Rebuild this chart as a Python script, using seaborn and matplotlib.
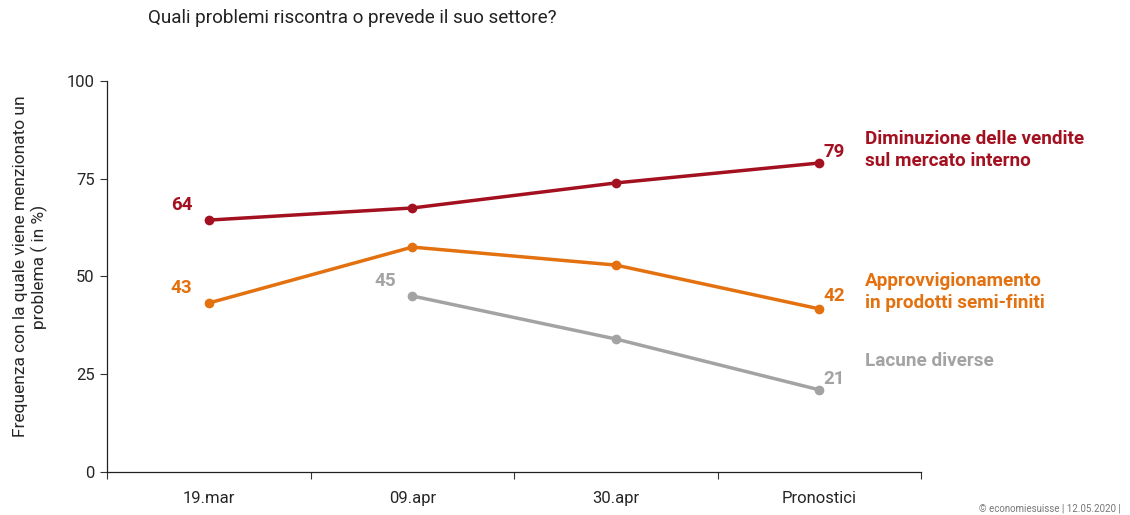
import matplotlib
matplotlib.use("Agg")
import matplotlib.pyplot as plt
import seaborn as sns
import numpy as np
import pandas as pd

# Data
periods = ["19.mar", "09.apr", "30.apr", "Pronostici"]
vendite = [64.4, 67.5, 73.9, 79.0]
approvv = [43.2, 57.5, 52.9, 41.7]
lacune = [np.nan, 45.0, 34.0, 21.0]

series_names = ["Diminuzione delle vendite\nsul mercato interno",
                "Approvvigionamento\nin prodotti semi-finiti",
                "Lacune diverse"]
colors = ["#A3101F", "#E3710F", "#A3A3A3"]

sns.set_style("white")
plt.rcParams["font.family"] = ["Roboto", "DejaVu Sans"]

fig = plt.figure(figsize=(11.3, 5.15), dpi=100)
ax = fig.add_axes([0.0947, 0.0835, 0.7205, 0.7595])

pos = np.arange(len(periods))
all_vals = [vendite, approvv, lacune]
for vals, col in zip(all_vals, colors):
    df = pd.DataFrame({"x": pos, "y": vals}).dropna()
    sns.lineplot(data=df, x="x", y="y", color=col, linewidth=2.5,
                 marker="o", markersize=7, markeredgewidth=0, ax=ax)

# value labels
lab_kw = dict(fontsize=13.5, fontweight="bold")
ax.text(-0.08, vendite[0] + 1.5, "64", color=colors[0], ha="right", va="bottom", **lab_kw)
ax.text(-0.08, approvv[0] + 1.5, "43", color=colors[1], ha="right", va="bottom", **lab_kw)
ax.text(0.92, lacune[1] + 1.5, "45", color=colors[2], ha="right", va="bottom", **lab_kw)
ax.text(3.02, vendite[3] + 0.5, "79", color=colors[0], ha="left", va="bottom", **lab_kw)
ax.text(3.02, approvv[3] + 1.0, "42", color=colors[1], ha="left", va="bottom", **lab_kw)
ax.text(3.02, lacune[3] + 0.5, "21", color=colors[2], ha="left", va="bottom", **lab_kw)

# series names
name_y = [82.3, 46.0, 28.4]
for name, yv, col in zip(series_names, name_y, colors):
    ax.text(3.225, yv, name, color=col, ha="left", va="center",
            fontsize=13.6, fontweight="bold", linespacing=1.25)

ax.set_xlim(-0.5, 3.5)
ax.set_ylim(0, 100)
ax.set_yticks([0, 25, 50, 75, 100])
ax.set_xticks(pos)
ax.set_xticklabels(periods)
ax.set_xticks(np.arange(-0.5, 4, 1), minor=True)
ax.tick_params(axis="x", which="major", bottom=True, length=0, pad=14, labelsize=12)
ax.tick_params(axis="x", which="minor", bottom=True, length=5, width=0.8,
               direction="out", color="#333333")
ax.tick_params(axis="y", left=True, length=5, width=0.8, direction="out",
               labelsize=12, pad=4, color="#333333")
ax.set_xlabel("")
ax.set_ylabel("Frequenza con la quale viene menzionato un\nproblema ( in %)", fontsize=12.5,
              labelpad=14)
ax.yaxis.set_label_coords(-0.073, 0.525)
for s in ["top", "right"]:
    ax.spines[s].set_visible(False)
for s in ["left", "bottom"]:
    ax.spines[s].set_color("#222222")
    ax.spines[s].set_linewidth(0.9)

fig.text(0.131, 0.965, "Quali problemi riscontra o prevede il suo settore?", fontsize=13.6,
         ha="left", va="center", color="#222222")
fig.text(0.866, 0.003, "© economiesuisse | 12.05.2020 |", fontsize=7, color="#777777",
         ha="left", va="bottom")

fig.savefig("out.png", dpi=100)
